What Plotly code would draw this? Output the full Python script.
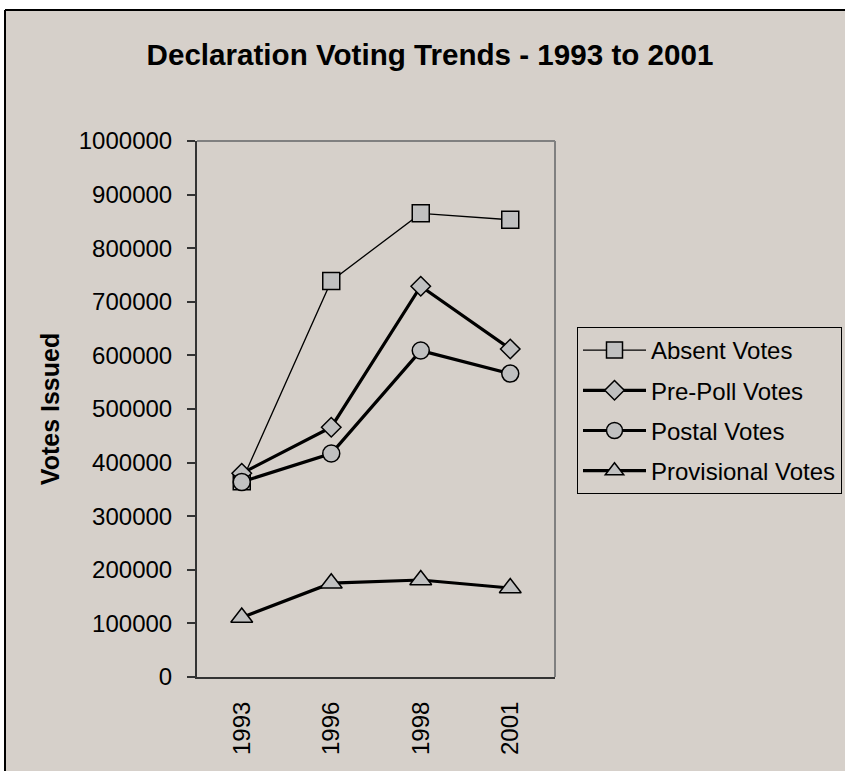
import plotly.graph_objects as go

years = ["1993", "1996", "1998", "2001"]
absent_votes = [365000, 739000, 865000, 853000]
prepoll_votes = [380000, 466000, 729000, 612000]
postal_votes = [364000, 417000, 609000, 566000]
provisional_votes = [111000, 175000, 181000, 166000]
series_names = ["Absent Votes", "Pre-Poll Votes", "Postal Votes", "Provisional Votes"]

W, H = 845, 771
PL, PR, PT, PB = 197, 555, 141, 677  # plot area pixels
BG = "#D6D0CA"
FONT = "Arial, Liberation Sans, sans-serif"


def px_x(p):
    return (p - PL) / (PR - PL)


def px_y(p):
    return (PB - p) / (PB - PT)


fig = go.Figure()
styles = [
    (absent_votes, "square", 17, 1.3),
    (prepoll_votes, "diamond", 15, 3.2),
    (postal_votes, "circle", 17, 3.2),
    (provisional_votes, "triangle-up", 19, 3.2),
]
for i, (vals, sym, size, lw) in enumerate(styles):
    fig.add_trace(go.Scatter(
        x=years, y=vals, name=series_names[i], mode="lines+markers",
        legendgroup="g%d" % i,
        line=dict(color="black", width=lw),
        marker=dict(symbol=sym, size=size, color="#C0C0C0",
                    line=dict(color="black", width=1.5)),
        cliponaxis=False,
    ))

shapes = [
    # white page area outside the chart frame (top and left strips)
    dict(type="rect", xref="paper", yref="paper", layer="below",
         x0=px_x(0), x1=px_x(W), y0=px_y(10), y1=px_y(0),
         fillcolor="white", line=dict(width=0)),
    dict(type="rect", xref="paper", yref="paper", layer="below",
         x0=px_x(0), x1=px_x(5), y0=px_y(H), y1=px_y(0),
         fillcolor="white", line=dict(width=0)),
    # chart frame top and left edges
    dict(type="line", xref="paper", yref="paper", layer="below",
         x0=px_x(5), x1=px_x(W), y0=px_y(10), y1=px_y(10),
         line=dict(color="black", width=2)),
    dict(type="line", xref="paper", yref="paper", layer="below",
         x0=px_x(5), x1=px_x(5), y0=px_y(10), y1=px_y(H),
         line=dict(color="black", width=2)),
    # plot area top / right grey border
    dict(type="line", xref="paper", yref="paper", layer="below",
         x0=0, x1=1, y0=1, y1=1, line=dict(color="#808080", width=2)),
    dict(type="line", xref="paper", yref="paper", layer="below",
         x0=1, x1=1, y0=0, y1=1, line=dict(color="#808080", width=2)),
]

fig.update_layout(
    width=W, height=H,
    margin=dict(l=PL, r=W - PR, t=PT, b=H - PB, autoexpand=False),
    paper_bgcolor=BG,
    plot_bgcolor=BG,
    font=dict(family=FONT, size=24, color="black"),
    title=dict(text="<b>Declaration Voting Trends - 1993 to 2001</b>",
               font=dict(family=FONT, size=29.6, color="black"),
               x=430 / W, xanchor="center", xref="container",
               y=1 - 55 / H, yanchor="middle", yref="container"),
    showlegend=True,
    legend=dict(x=px_x(577), y=px_y(327), xanchor="left", yanchor="top",
                bgcolor=BG, bordercolor="black", borderwidth=1,
                font=dict(family=FONT, size=24, color="black"),
                itemwidth=63, tracegroupgap=6, traceorder="grouped"),
    shapes=shapes,
)

fig.update_xaxes(
    type="category", range=[-0.5, 3.5], showgrid=False, zeroline=False,
    showline=True, linecolor="#333333", linewidth=2,
    ticks="", tickangle=-90, ticklabelstandoff=13,
    tickfont=dict(family=FONT, size=24, color="black"),
)
fig.update_yaxes(
    range=[0, 1000000], dtick=100000, tickformat="d",
    showgrid=False, zeroline=False,
    showline=True, linecolor="#333333", linewidth=2,
    ticks="outside", ticklen=8, tickcolor="#333333", tickwidth=1.5,
    ticklabelstandoff=10,
    tickfont=dict(family=FONT, size=24, color="black"),
    title=dict(text="<b>Votes Issued</b>", standoff=12,
               font=dict(family=FONT, size=25, color="black")),
)

fig.write_html("out.html", config={"displayModeBar": False})
